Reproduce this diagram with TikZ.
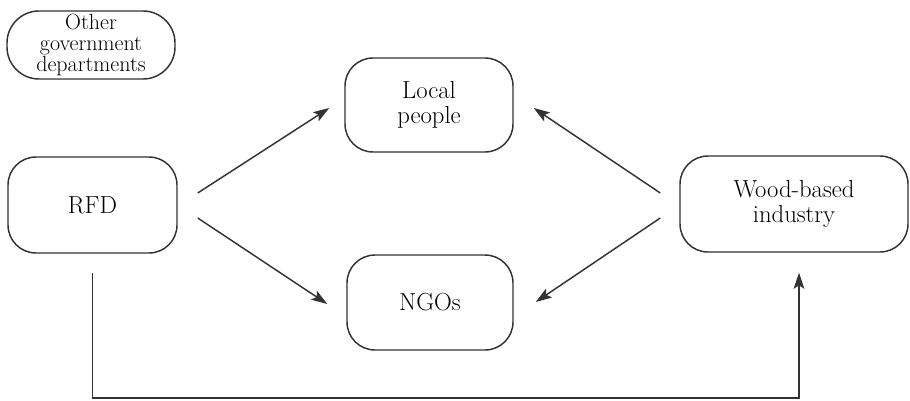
\documentclass[tikz,border=0pt]{standalone}
\usetikzlibrary{arrows.meta,calc}
\begin{document}
\begin{tikzpicture}[x=0.75pt,y=-0.75pt,
  box/.style={draw=black!80,line width=1.1pt,rounded corners=21pt,align=center,
    inner sep=0pt,font=\fontsize{18.5}{19}\selectfont},
  conn/.style={draw=black!80,line width=1.1pt},
  arr/.style={conn,-{Stealth[length=12pt,width=8pt,inset=2.5pt]}}]
\useasboundingbox (0,0) rectangle (910,400);
\node[box,rounded corners=24pt,minimum width=168*0.75pt,minimum height=68*0.75pt,
  font=\fontsize{16.5}{16}\selectfont] (other) at (91,45)
  {Other\\government\\departments};
\node[box,minimum width=168*0.75pt,minimum height=94*0.75pt] (local) at (429,105) {Local\\people};
\node[box,minimum width=169*0.75pt,minimum height=96*0.75pt] (rfd) at (92.5,205) {RFD};
\node[box,minimum width=166*0.75pt,minimum height=95*0.75pt] (ngos) at (430,302.5) {NGOs};
\node[box,minimum width=228*0.75pt,minimum height=96*0.75pt] (wood) at (794,204) {Wood-based\\industry};
\draw[arr] ($(rfd.east)+(20,-12)$) -- ($(local.west)+(-15,3)$);
\draw[arr] ($(rfd.east)+(20,13)$) -- ($(ngos.west)+(-19,1.5)$);
\draw[arr] ($(wood.west)+(-19,-11)$) -- ($(local.east)+(20,3)$);
\draw[arr] ($(wood.west)+(-19,14)$) -- ($(ngos.east)+(22,-0.5)$);
\coordinate (b1) at ($(rfd.south)+(0,19)$);
\coordinate (b2) at ($(wood.south)+(5,20)$);
\coordinate (bl) at (0,398);
\draw[arr,rounded corners=0pt] (b1) |- (bl -| b2) -- (b2);
\end{tikzpicture}
\end{document}
